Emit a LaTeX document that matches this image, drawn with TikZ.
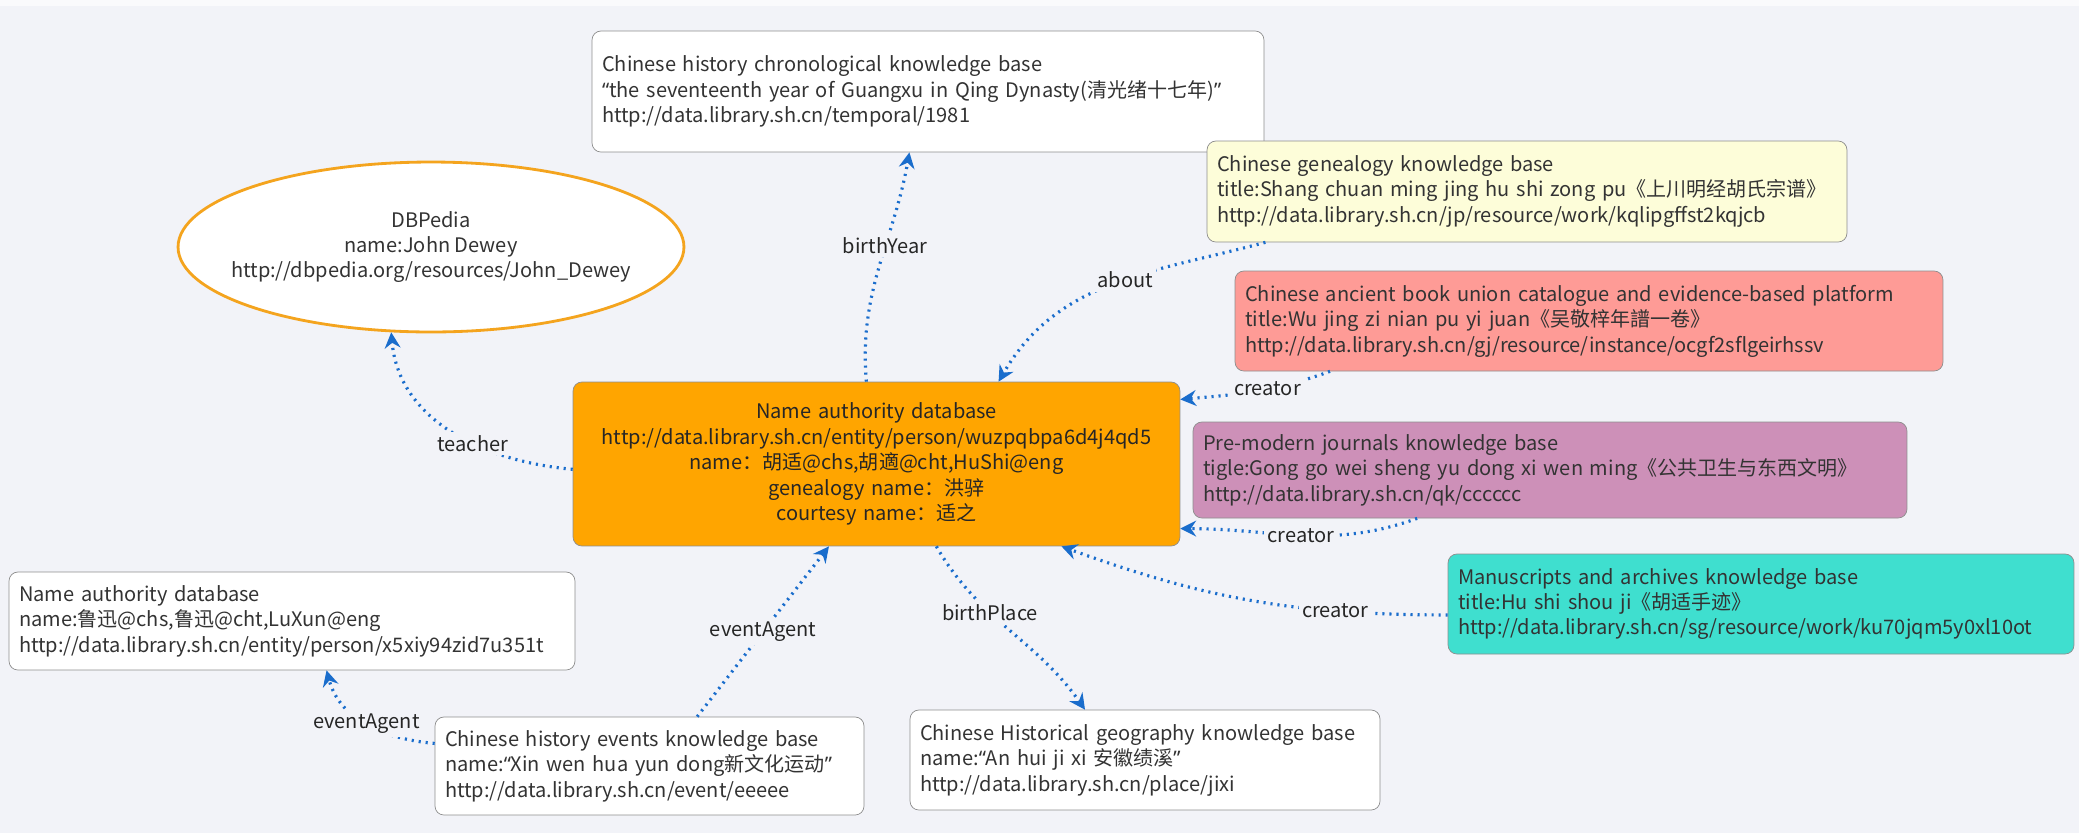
\documentclass[tikz,border=0pt]{standalone}
\usepackage{fontspec}
\setmainfont{Noto Sans CJK SC}
\newfontfamily\qtfont{Noto Sans}
\usetikzlibrary{arrows.meta,shapes.geometric}
\definecolor{bgc}{HTML}{F2F3F8}
\definecolor{boxgray}{HTML}{8E8E8E}
\definecolor{txtgray}{HTML}{333333}
\definecolor{linkblue}{HTML}{1A6DCC}
\definecolor{genyellow}{HTML}{FDFDD9}
\definecolor{gjred}{HTML}{FE9B96}
\definecolor{qkpurple}{HTML}{CD90B8}
\definecolor{sgteal}{HTML}{3FDFCF}
\definecolor{personorange}{HTML}{FFA500}
\definecolor{dbporange}{HTML}{F4A41E}
\newcommand{\qopen}{{\qtfont “}}
\newcommand{\qclose}{{\qtfont ”}}
\hyphenpenalty=10000

\begin{document}
\begin{tikzpicture}[x=0.02cm, y=0.02cm,
    every node/.style={font=\fontsize{11.4pt}{14.5pt}\selectfont},
    kb/.style={draw=boxgray, rounded corners=5pt, fill=white, align=left, inner xsep=0.2cm, inner ysep=0.1cm, text=txtgray},
    rel/.style={draw=linkblue, line width=1.8pt, dash pattern=on 1.2pt off 2.8pt, -{Stealth[length=9pt,width=9pt,inset=3pt]}},
    lbl/.style={fill=bgc, inner sep=2pt, text=black!85}]
    \fill[bgc] (0,0) rectangle (2079,-833);
    \fill[white!60!bgc] (0,0) rectangle (2079,-6);
    \useasboundingbox (0,0) rectangle (2079,-833);

    \node[kb, text width=13.04cm, minimum height=2.42cm] (chrono) at (928,-91.5) {Chinese history chronological knowledge base\\{\qopen}the seventeenth year of Guangxu in Qing Dynasty(清光绪十七年){\qclose}\\http://data.library.sh.cn/temporal/1981};
    \node[ellipse, draw=dbporange, line width=1.6pt, fill=white, minimum width=10.12cm, minimum height=3.4cm] (dbp) at (431,-247) {};
    \node[align=center, text=txtgray] (dbptxt) at (dbp.center) {DBPedia\\name:John Dewey\\http://dbpedia.org/resources/John\_Dewey};
    \node[kb, fill=genyellow, text width=12.4cm, minimum height=2.02cm] (gene) at (1527,-191.5) {Chinese genealogy knowledge base\\title:Shang chuan ming jing hu shi zong pu《上川明经胡氏宗谱》\\http://data.library.sh.cn/jp/resource/work/kqlipgffst2kqjcb};
    \node[kb, fill=gjred, text width=13.76cm, minimum height=2cm] (guji) at (1589,-321) {Chinese ancient book union catalogue and evidence-based platform\\title:Wu jing zi nian pu yi juan《吴敬梓年譜一卷》\\http://data.library.sh.cn/gj/resource/instance/ocgf2sflgeirhssv};
    \node[kb, fill=personorange, align=center, text width=11.74cm, minimum height=3.28cm, text=black!85] (person) at (876.5,-464) {Name authority database\\http://data.library.sh.cn/entity/person/wuzpqbpa6d4j4qd5\\name：胡适@chs,胡適@cht,HuShi@eng\\genealogy name：洪骍\\courtesy name：适之};
    \node[kb, fill=qkpurple, text width=13.88cm, minimum height=1.92cm] (journal) at (1550,-470) {Pre-modern journals knowledge base\\tigle:Gong go wei sheng yu dong xi wen ming《公共卫生与东西文明》\\http://data.library.sh.cn/qk/cccccc};
    \node[kb, fill=sgteal, text width=12.12cm, minimum height=2cm] (manu) at (1761,-604) {Manuscripts and archives knowledge base\\title:Hu shi shou ji《胡适手迹》\\http://data.library.sh.cn/sg/resource/work/ku70jqm5y0xl10ot};
    \node[kb, text width=10.92cm, minimum height=1.96cm] (luxun) at (292,-621) {Name authority database\\name:鲁迅@chs,鲁迅@cht,LuXun@eng\\http://data.library.sh.cn/entity/person/x5xiy94zid7u351t};
    \node[kb, text width=8.18cm, minimum height=1.96cm] (events) at (649.5,-766) {Chinese history events knowledge base\\name:{\qopen}Xin wen hua yun dong新文化运动{\qclose}\\http://data.library.sh.cn/event/eeeee};
    \node[kb, text width=9cm, minimum height=2cm] (place) at (1145,-760) {Chinese Historical geography knowledge base\\name:{\qopen}An hui ji xi 安徽绩溪{\qclose}\\http://data.library.sh.cn/place/jixi};

    \draw[rel] (person.97) to[out=95,in=-100] node[lbl,pos=0.6]{birthYear} (chrono.253);
    \draw[rel] (gene.191) to[out=195,in=60] node[lbl,pos=0.45]{about} (person.34);
    \draw[rel] (guji.191) to[out=200,in=5] node[lbl,pos=0.42]{creator} (person.12);
    \draw[rel] (journal.200) to[out=200,in=0] node[lbl,pos=0.5]{creator} (person.-12);
    \draw[rel] (manu.182) to[out=180,in=-20] node[lbl,pos=0.27]{creator} (person.-24);
    \draw[rel] (person.-54) to[out=-60,in=125] node[lbl,pos=0.38]{birthPlace} (place.140);
    \draw[rel] (events.46) -- node[lbl]{eventAgent} (person.240);
    \draw[rel] (events.174) to[out=175,in=-75] node[lbl,pos=0.5]{eventAgent} (luxun.305);
    \draw[rel] (person.181) to[out=175,in=-85] node[lbl,pos=0.4]{teacher} (dbp.245);
\end{tikzpicture}
\end{document}
